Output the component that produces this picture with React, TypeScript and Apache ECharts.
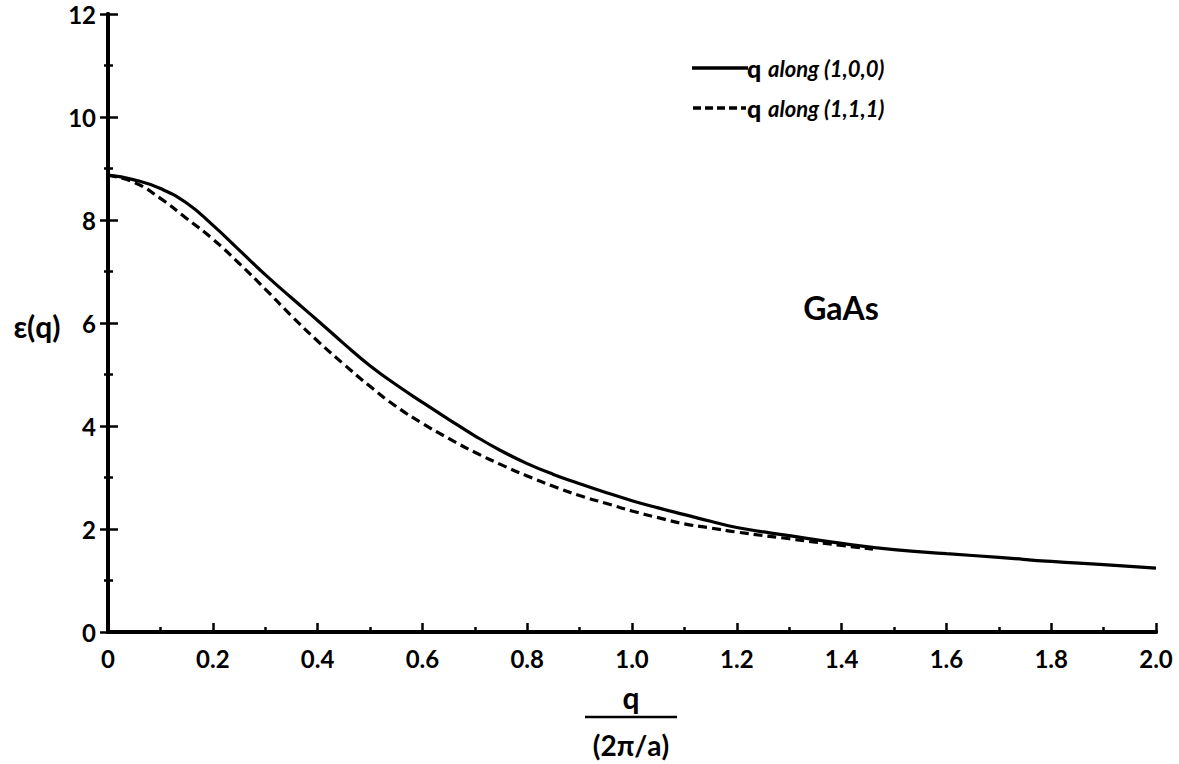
import React, { useEffect, useRef } from "react";
import * as echarts from "echarts";

const qSolid = [0, 0.05, 0.1, 0.15, 0.2, 0.25, 0.3, 0.35, 0.4, 0.45, 0.5, 0.55, 0.6, 0.65, 0.7, 0.75, 0.8, 0.85, 0.9, 0.95, 1.0, 1.05, 1.1, 1.15, 1.2, 1.3, 1.4, 1.5, 1.6, 1.7, 1.8, 1.9, 2.0];
const epsSolid = [8.87, 8.78, 8.61, 8.33, 7.9, 7.42, 6.94, 6.49, 6.05, 5.6, 5.17, 4.8, 4.46, 4.13, 3.81, 3.52, 3.27, 3.06, 2.88, 2.71, 2.55, 2.41, 2.28, 2.15, 2.03, 1.87, 1.72, 1.6, 1.52, 1.45, 1.37, 1.31, 1.24];

const qDashed = [0, 0.05, 0.1, 0.15, 0.2, 0.25, 0.3, 0.35, 0.4, 0.45, 0.5, 0.55, 0.6, 0.65, 0.7, 0.75, 0.8, 0.85, 0.9, 0.95, 1.0, 1.05, 1.1, 1.15, 1.2, 1.3, 1.4, 1.46];
const epsDashed = [8.87, 8.73, 8.42, 8.03, 7.63, 7.16, 6.66, 6.14, 5.65, 5.2, 4.77, 4.38, 4.05, 3.76, 3.49, 3.25, 3.03, 2.83, 2.65, 2.5, 2.35, 2.22, 2.1, 2.02, 1.94, 1.81, 1.68, 1.61];

const xTickLabels = ["0", "0.2", "0.4", "0.6", "0.8", "1.0", "1.2", "1.4", "1.6", "1.8", "2.0"];
const yTickLabels = ["0", "2", "4", "6", "8", "10", "12"];

const legendLabels = ["along (1,0,0)", "along (1,1,1)"];

const FONT = "Lato, 'DejaVu Sans', sans-serif";

export default function App() {
  const ref = useRef<HTMLDivElement>(null);

  useEffect(() => {
    if (!ref.current) return;
    const chart = echarts.init(ref.current, undefined, { renderer: "svg" });
    const axisLine = { show: true, lineStyle: { color: "#000", width: 4 } };
    const legendRich = {
      q: { fontFamily: FONT, fontWeight: 900, fontSize: 25, fill: "#000" },
      t: { fontFamily: FONT, fontStyle: "italic", fontWeight: "bold", fontSize: 22, fill: "#000" },
    };
    const option: any = {
      animation: false,
      backgroundColor: "#fff",
      grid: { left: 108, right: 23, top: 14, bottom: 132, containLabel: false },
      xAxis: [
        {
          type: "value",
          min: 0,
          max: 2,
          interval: 0.2,
          axisLine,
          axisTick: { show: true, inside: true, length: 9, lineStyle: { color: "#000", width: 2.5 } },
          minorTick: { show: true, splitNumber: 2, length: 5, lineStyle: { color: "#000", width: 2.5 } },
          splitLine: { show: false },
          axisLabel: {
            margin: 14,
            color: "#000",
            fontFamily: FONT,
            fontWeight: "bold",
            fontSize: 24,
            formatter: (v: number) => xTickLabels[Math.round(v / 0.2)] ?? "",
          },
        },
        {
          type: "value",
          position: "top",
          min: 0,
          max: 2,
          interval: 0.2,
          axisLine,
          axisTick: { show: false },
          axisLabel: { show: false },
          splitLine: { show: false },
        },
      ],
      yAxis: [
        {
          type: "value",
          min: 0,
          max: 12,
          interval: 2,
          axisLine,
          axisTick: { show: true, inside: true, length: 10, lineStyle: { color: "#000", width: 2.5 } },
          minorTick: { show: true, splitNumber: 2, length: 5, lineStyle: { color: "#000", width: 2.5 } },
          splitLine: { show: false },
          axisLabel: {
            margin: 12,
            color: "#000",
            fontFamily: FONT,
            fontWeight: "bold",
            fontSize: 24,
            formatter: (v: number) => yTickLabels[Math.round(v / 2)] ?? "",
          },
        },
        {
          type: "value",
          position: "right",
          min: 0,
          max: 12,
          interval: 2,
          axisLine,
          axisTick: { show: true, inside: true, length: 8, lineStyle: { color: "#000", width: 2.5 } },
          minorTick: { show: true, splitNumber: 2, length: 4, lineStyle: { color: "#000", width: 2.5 } },
          axisLabel: { show: false },
          splitLine: { show: false },
        },
      ],
      series: [
        {
          type: "line",
          name: "q along (1,0,0)",
          data: qSolid.map((q, i) => [q, epsSolid[i]]),
          smooth: 0.5,
          showSymbol: false,
          lineStyle: { color: "#000", width: 3.2, type: "solid" },
        },
        {
          type: "line",
          name: "q along (1,1,1)",
          data: qDashed.map((q, i) => [q, epsDashed[i]]),
          smooth: 0.5,
          showSymbol: false,
          lineStyle: { color: "#000", width: 3.2, type: [9, 5] },
        },
      ],
      graphic: [
        { type: "line", shape: { x1: 692, y1: 68, x2: 748, y2: 68 }, style: { stroke: "#000", lineWidth: 3.5 } },
        {
          type: "text",
          x: 747,
          y: 68,
          style: { text: "{q|q}  {t|" + legendLabels[0] + "}", verticalAlign: "middle", rich: legendRich },
        },
        { type: "line", shape: { x1: 693, y1: 108, x2: 746, y2: 108 }, style: { stroke: "#000", lineWidth: 3.5, lineDash: [8, 4] } },
        {
          type: "text",
          x: 747,
          y: 108,
          style: { text: "{q|q}  {t|" + legendLabels[1] + "}", verticalAlign: "middle", rich: legendRich },
        },
        {
          type: "text",
          x: 841,
          y: 307,
          style: { text: "GaAs", fontFamily: FONT, fontWeight: "bold", fontSize: 32, fill: "#000", align: "center", verticalAlign: "middle" },
        },
        {
          type: "text",
          x: 37,
          y: 326,
          style: { text: "ε(q)", fontFamily: FONT, fontWeight: "bold", fontSize: 30, fill: "#000", align: "center", verticalAlign: "middle" },
        },
        {
          type: "text",
          x: 631,
          y: 697,
          style: { text: "q", fontFamily: FONT, fontWeight: "bold", fontSize: 30, fill: "#000", align: "center", verticalAlign: "middle" },
        },
        { type: "line", shape: { x1: 585, y1: 717, x2: 677, y2: 717 }, style: { stroke: "#000", lineWidth: 2.5 } },
        {
          type: "text",
          x: 631,
          y: 745,
          style: { text: "(2π/a)", fontFamily: FONT, fontWeight: "bold", fontSize: 28, fill: "#000", align: "center", verticalAlign: "middle" },
        },
      ],
    };
    chart.setOption(option);
    return () => chart.dispose();
  }, []);

  return <div ref={ref} style={{ position: "fixed", left: 0, top: 0, width: 1179, height: 764 }} />;
}
